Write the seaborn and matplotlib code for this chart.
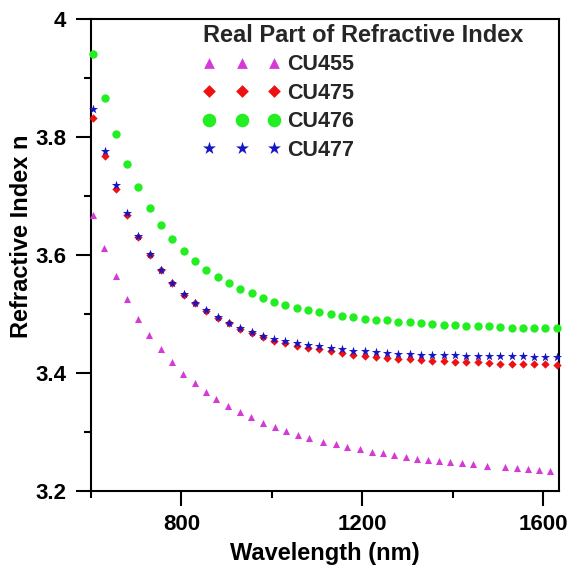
import matplotlib
matplotlib.use("Agg")
import matplotlib.pyplot as plt
import seaborn as sns
import pandas as pd
from matplotlib.ticker import FixedLocator, FixedFormatter

# ---------------- data ----------------
wavelength = [605, 630, 655, 680, 705, 730, 755, 780, 805, 830, 855, 880, 905, 930,
              955, 980, 1005, 1030, 1055, 1080, 1105, 1130, 1155, 1180, 1205, 1230,
              1255, 1280, 1305, 1330, 1355, 1380, 1405, 1430, 1455, 1480, 1505, 1530,
              1555, 1580, 1605, 1630]

wavelength_cu455 = [605, 629, 655, 679, 705, 729, 754, 779, 804, 829, 854, 877, 904, 929,
                    953, 981, 1007, 1032, 1057, 1081, 1112, 1142, 1167, 1195, 1221, 1246,
                    1271, 1296, 1320, 1346, 1370, 1395, 1420, 1444, 1476, 1516, 1541, 1566,
                    1590, 1616]

n_cu455 = [3.667, 3.611, 3.565, 3.525, 3.492, 3.464, 3.440, 3.418, 3.399, 3.383,
           3.368, 3.356, 3.344, 3.334, 3.325, 3.315, 3.308, 3.301, 3.295, 3.289,
           3.283, 3.279, 3.275, 3.271, 3.266, 3.264, 3.261, 3.258, 3.255, 3.252,
           3.251, 3.249, 3.247, 3.245, 3.242, 3.241, 3.239, 3.237, 3.236, 3.234]

n_cu475 = [3.832, 3.767, 3.711, 3.667, 3.631, 3.600, 3.574, 3.552, 3.533, 3.518,
           3.505, 3.494, 3.484, 3.475, 3.468, 3.461, 3.455, 3.451, 3.446, 3.443,
           3.440, 3.437, 3.434, 3.431, 3.428, 3.427, 3.425, 3.424, 3.423, 3.422,
           3.420, 3.420, 3.419, 3.419, 3.418, 3.417, 3.416, 3.416, 3.415, 3.415,
           3.415, 3.414]

n_cu476 = [3.940, 3.866, 3.805, 3.755, 3.715, 3.680, 3.651, 3.627, 3.607, 3.590,
           3.575, 3.562, 3.553, 3.542, 3.535, 3.527, 3.521, 3.516, 3.511, 3.506,
           3.503, 3.500, 3.497, 3.495, 3.492, 3.490, 3.489, 3.487, 3.486, 3.484,
           3.483, 3.482, 3.481, 3.480, 3.479, 3.479, 3.478, 3.477, 3.477, 3.477,
           3.476, 3.476]

n_cu477 = [3.847, 3.776, 3.719, 3.672, 3.632, 3.601, 3.575, 3.553, 3.534, 3.519,
           3.506, 3.495, 3.485, 3.476, 3.470, 3.463, 3.458, 3.454, 3.451, 3.447,
           3.445, 3.442, 3.440, 3.438, 3.437, 3.436, 3.434, 3.433, 3.432, 3.431,
           3.431, 3.430, 3.430, 3.429, 3.428, 3.428, 3.428, 3.428, 3.428, 3.427,
           3.427, 3.427]

series_labels = ["CU455", "CU475", "CU476", "CU477"]
x_major_ticks = [800, 1200, 1600]
x_minor_ticks = [600, 1000, 1400]
y_major_ticks = [3.2, 3.4, 3.6, 3.8, 4.0]
y_major_labels = ["3.2", "3.4", "3.6", "3.8", "4"]
y_minor_ticks = [3.3, 3.5, 3.7, 3.9]

# ---------------- style ----------------
sns.set_theme(style="white")
plt.rcParams["font.family"] = ["Liberation Sans", "DejaVu Sans"]
plt.rcParams["font.weight"] = "bold"

fig = plt.figure(figsize=(5.68, 5.70), dpi=100)
ax = fig.add_axes([0.1602, 0.1386, 0.9842 - 0.1602, 0.9667 - 0.1386])

colors = ["#D63AD6", "#EE1111", "#22EE22", "#1515C8"]
markers = ["^", "D", "o", "*"]
sizes = [26, 18, 36, 48]
legend_sizes = [60, 42, 95, 95]

datasets = [
    pd.DataFrame({"wl": wavelength_cu455, "n": n_cu455}),
    pd.DataFrame({"wl": wavelength, "n": n_cu475}),
    pd.DataFrame({"wl": wavelength, "n": n_cu476}),
    pd.DataFrame({"wl": wavelength, "n": n_cu477}),
]

for df, c, m, s, lab in zip(datasets, colors, markers, sizes, series_labels):
    sns.scatterplot(data=df, x="wl", y="n", color=c, marker=m, s=s,
                    linewidth=0, label=lab, ax=ax, zorder=3, clip_on=False)

ax.set_xlim(600, 1635)
ax.set_ylim(3.2, 4.0)

ax.xaxis.set_major_locator(FixedLocator(x_major_ticks))
ax.xaxis.set_minor_locator(FixedLocator(x_minor_ticks))
ax.yaxis.set_major_locator(FixedLocator(y_major_ticks))
ax.yaxis.set_major_formatter(FixedFormatter(y_major_labels))
ax.yaxis.set_minor_locator(FixedLocator(y_minor_ticks))

ax.tick_params(which="both", direction="out", width=1.5, color="black",
               bottom=True, left=True, top=False, right=False)
ax.tick_params(which="major", length=10.8)
ax.tick_params(which="minor", length=5)
ax.tick_params(axis="x", which="major", labelsize=16, pad=6, labelcolor="black")
ax.tick_params(axis="y", which="major", labelsize=16, pad=7, labelcolor="black")
for lab in ax.get_xticklabels() + ax.get_yticklabels():
    lab.set_fontweight("bold")

for sp in ax.spines.values():
    sp.set_linewidth(1.5)
    sp.set_color("black")

ax.set_xlabel("Wavelength (nm)", fontsize=17, fontweight="bold", labelpad=5, color="black")
ax.set_ylabel("Refractive Index n", fontsize=17, fontweight="bold", color="black")
ax.yaxis.set_label_coords(-0.124, 0.540)

leg = ax.legend(title="Real Part of Refractive Index", loc="upper left",
                bbox_to_anchor=(0.239, 0.990), borderaxespad=0, borderpad=0,
                frameon=False, scatterpoints=3, scatteryoffsets=[0.5],
                handlelength=3.6, handletextpad=0.3, labelspacing=0.35,
                prop={"size": 15.5, "weight": "bold"},
                title_fontproperties={"size": 17, "weight": "bold"},
                alignment="left")
for h, ls in zip(leg.legend_handles, legend_sizes):
    h.set_sizes([ls])

fig.savefig("out.png", dpi=100)
